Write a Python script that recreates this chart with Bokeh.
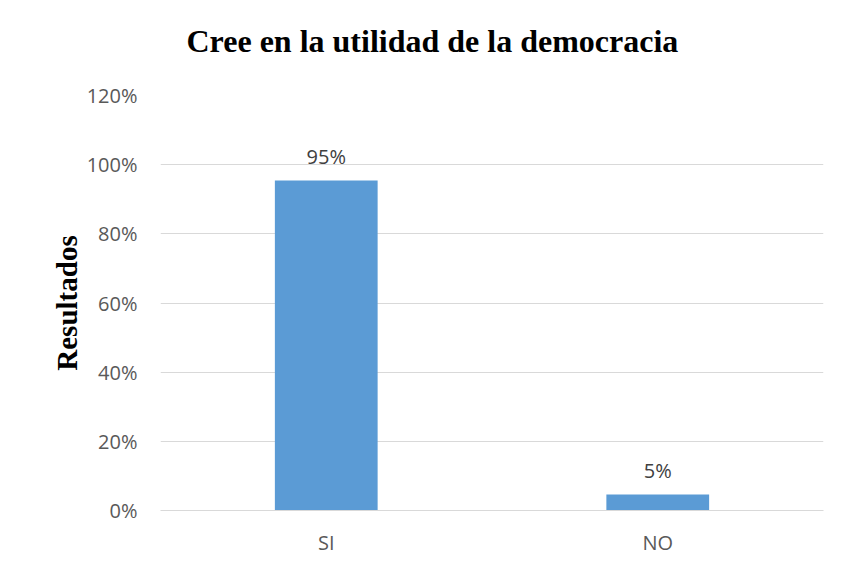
from bokeh.plotting import figure
from bokeh.models import ColumnDataSource, NumeralTickFormatter, FixedTicker, Title, LabelSet
from bokeh.core.properties import value
from bokeh.embed import file_html
from bokeh.resources import INLINE

title_text = "Cree en la utilidad de la democracia"
categories = ["SI", "NO"]
values = [0.954, 0.046]
labels = ["95%", "5%"]
y_ticks = [0, 0.2, 0.4, 0.6, 0.8, 1.0, 1.2]

src = ColumnDataSource(dict(cat=categories, val=values, lab=labels))

p = figure(x_range=categories, y_range=(0, 1.2), width=825, height=558,
           output_backend="svg", toolbar_location=None,
           min_border_left=160, min_border_right=2, min_border_top=95,
           min_border_bottom=43)

spacer = Title(text=" ", text_font_size="1px", standoff=34)
p.add_layout(spacer, "above")
t = Title(text=title_text, align="left", offset=26,
          text_font="Liberation Serif", text_font_style="bold",
          text_font_size="32px", text_color="black", standoff=0)
p.add_layout(t, "above")

p.vbar(x="cat", top="val", width=0.31, source=src, color="#5B9BD5", line_color=None)

lab = LabelSet(x="cat", y="val", text="lab", source=src, text_align="center",
               text_baseline="bottom", y_offset=11, text_font=value("Open Sans"),
               text_font_size="20px", text_color="#404040")
p.add_layout(lab)

p.x_range.range_padding = 0
p.yaxis.ticker = FixedTicker(ticks=y_ticks)
p.yaxis.formatter = NumeralTickFormatter(format="0%")
p.yaxis.axis_line_color = None
p.yaxis.major_tick_line_color = None
p.yaxis.minor_tick_line_color = None
p.yaxis.major_label_standoff = 17
p.yaxis.major_label_text_font = "Open Sans"
p.yaxis.major_label_text_font_size = "20px"
p.yaxis.major_label_text_color = "#595959"
p.yaxis.axis_label = "Resultados"
p.yaxis.axis_label_text_font = "Liberation Serif"
p.yaxis.axis_label_text_font_style = "bold"
p.yaxis.axis_label_text_font_size = "29px"
p.yaxis.axis_label_text_color = "black"
p.yaxis.axis_label_standoff = 1

p.xaxis.axis_line_color = "#D9D9D9"
p.xaxis.axis_line_width = 1
p.xaxis.major_tick_line_color = None
p.xaxis.minor_tick_line_color = None
p.xaxis.major_label_standoff = 12
p.xaxis.major_label_text_font = "Open Sans"
p.xaxis.major_label_text_font_size = "20px"
p.xaxis.major_label_text_color = "#595959"

p.xgrid.grid_line_color = None
p.ygrid.grid_line_color = "#D9D9D9"
p.ygrid.grid_line_width = 1
p.outline_line_color = None
p.background_fill_color = "white"
p.border_fill_color = "white"

open("out.html", "w").write(file_html(p, INLINE))
